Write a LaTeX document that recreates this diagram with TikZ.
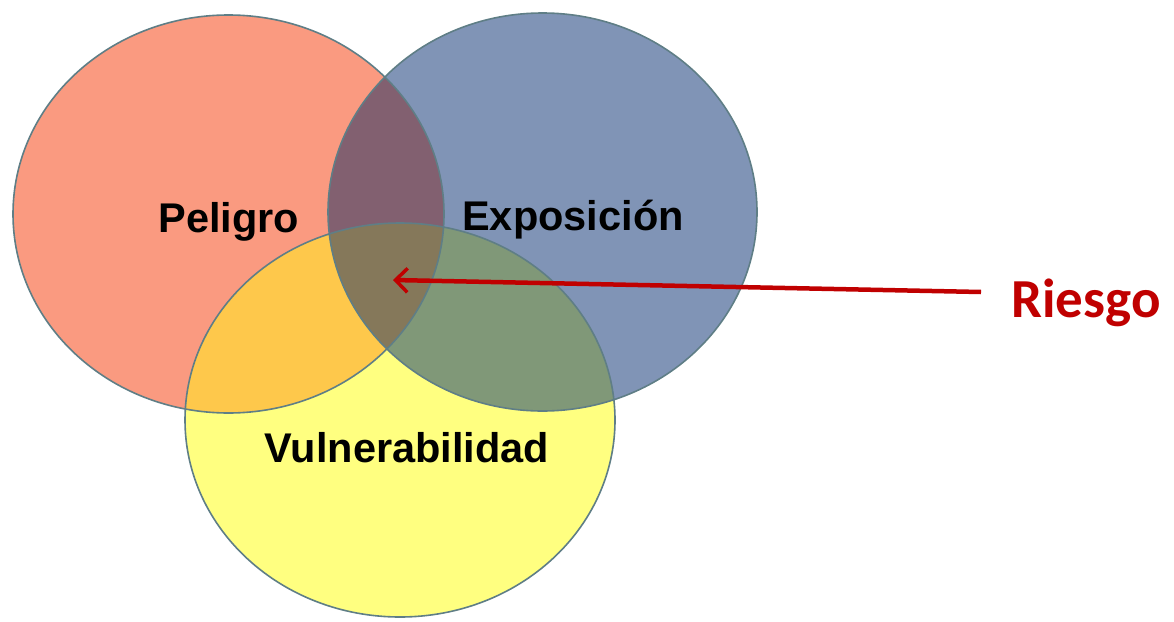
\documentclass[tikz,border=0pt]{standalone}
\usepackage{fontspec}
\setmainfont{Liberation Sans}
\newfontfamily\calibri{Carlito}
\usetikzlibrary{arrows.meta}
\definecolor{cRed}{HTML}{FA9A80}
\definecolor{cBlue}{HTML}{8094B6}
\definecolor{cYel}{HTML}{FFFF80}
\definecolor{cPur}{HTML}{826070}
\definecolor{cOra}{HTML}{FEC84B}
\definecolor{cGre}{HTML}{809878}
\definecolor{cBro}{HTML}{85785A}
\definecolor{cEdge}{HTML}{5F7E86}
\definecolor{cArrow}{HTML}{C00000}
\tikzset{
  lbl/.style={font=\bfseries\fontsize{41.5}{41.5}\selectfont, anchor=base, inner sep=0pt},
  edge/.style={draw=cEdge, line width=1.6pt},
}
\begin{document}
\begin{tikzpicture}[x=1pt,y=-1pt]
\useasboundingbox (0,0) rectangle (1174,621);
\def\pR{(228.5,214) ellipse [x radius=215.5, y radius=199]}
\def\pB{(542.5,212) ellipse [x radius=214.5, y radius=199]}
\def\pY{(400,420) ellipse [x radius=215, y radius=197]}
\fill[cRed] \pR;
\fill[cBlue] \pB;
\fill[cYel] \pY;
\begin{scope}
  \clip \pR;
  \fill[cPur] \pB;
  \fill[cOra] \pY;
\end{scope}
\begin{scope}
  \clip \pB;
  \fill[cGre] \pY;
\end{scope}
\begin{scope}
  \clip \pR;
  \clip \pB;
  \fill[cBro] \pY;
\end{scope}
\draw[edge] \pR;
\draw[edge] \pB;
\draw[edge] \pY;
\node[lbl] (peligro) at (229,232) {Peligro};
\node[lbl] (expo) at (573,230) {Exposición};
\node[lbl] (vuln) at (407,462) {Vulnerabilidad};
\node[anchor=base, inner sep=0pt, text=cArrow, font=\calibri\bfseries\fontsize{55}{55}\selectfont] (riesgo) at (1086,317) {Riesgo};
\coordinate (tail) at (981,292);
\coordinate (tip) at (393,280);
\draw[cArrow, line width=4.5pt, -{Straight Barb[length=12pt,width=24pt,line width=3.5pt]}] (tail) -- (tip);
\end{tikzpicture}
\end{document}
